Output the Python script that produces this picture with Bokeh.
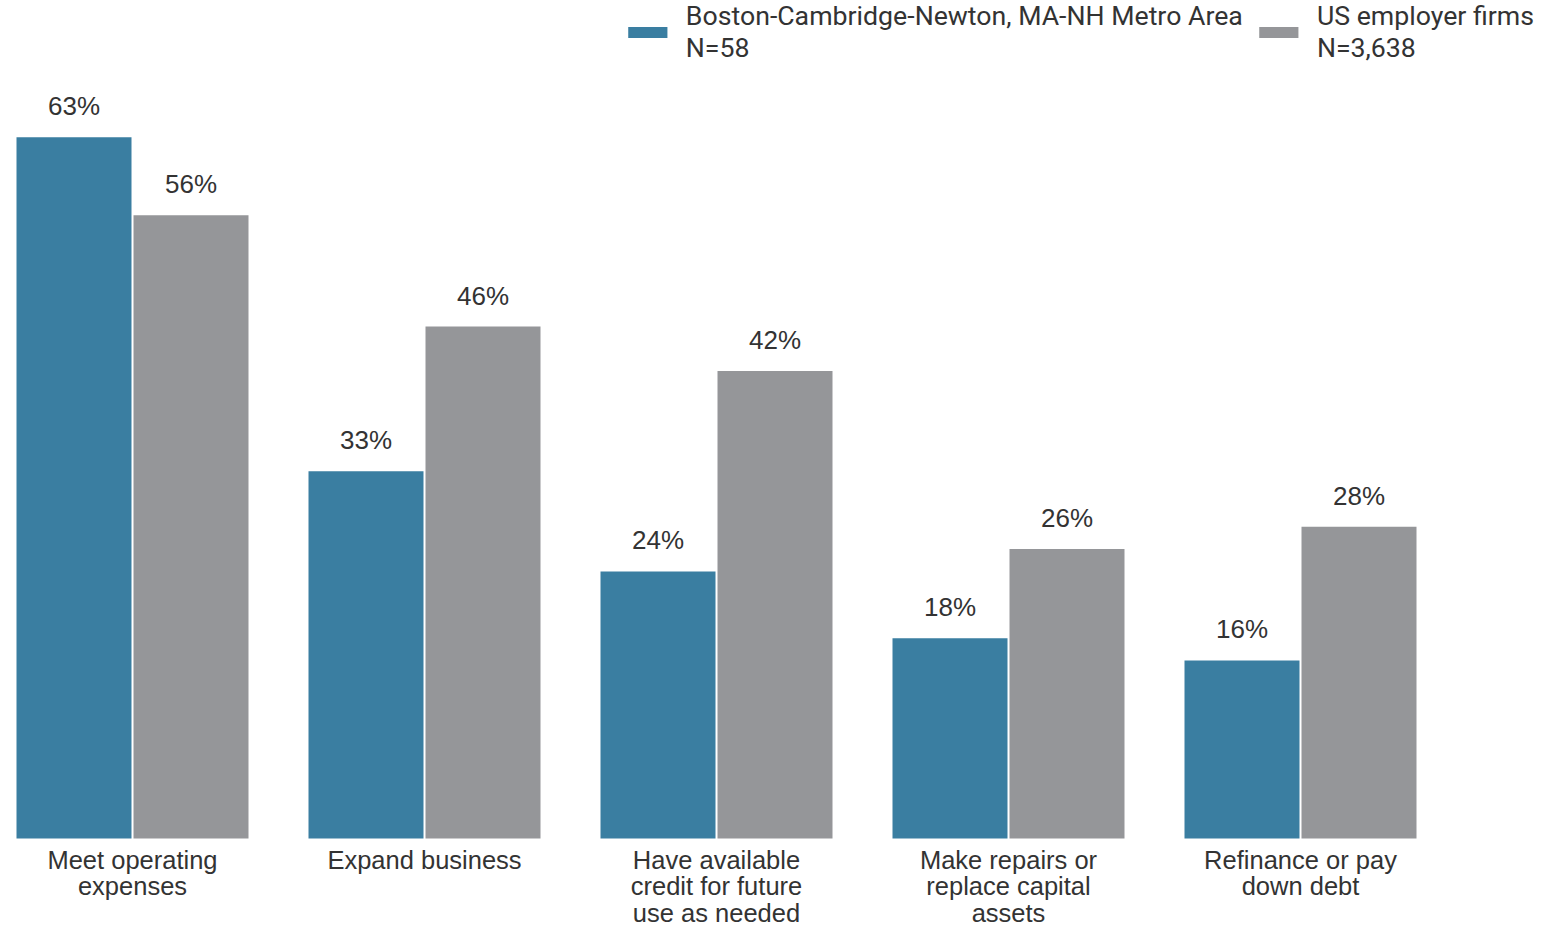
from bokeh.plotting import figure
from bokeh.models import ColumnDataSource, Legend, LegendItem, Range1d
from bokeh.core.properties import value
from bokeh.embed import file_html
from bokeh.resources import INLINE

categories = ["Meet operating\nexpenses", "Expand business",
              "Have available\ncredit for future\nuse as needed",
              "Make repairs or\nreplace capital\nassets", "Refinance or pay\ndown debt"]
boston = [63, 33, 24, 18, 16]
us = [56, 46, 42, 26, 28]
series_names = ["Boston-Cambridge-Newton, MA-NH Metro Area\nN=58", "US employer firms\nN=3,638"]
colors = ["#3a7ea1", "#959699"]

W, H = 1534, 931
BASE = 838
idx = list(range(len(categories)))
off = 58.5 / 292
bw = 115 / 292
scale_y = 11.13

src_b = ColumnDataSource(dict(x=[i - off for i in idx], top=boston,
                              lab=[f"{v}%" for v in boston]))
src_u = ColumnDataSource(dict(x=[i + off for i in idx], top=us,
                              lab=[f"{v}%" for v in us]))
src_c = ColumnDataSource(dict(x=idx, y=[0] * len(idx), lab=categories))

p = figure(width=W, height=H, output_backend="svg", toolbar_location=None,
           x_range=Range1d(-132 / 292, -132 / 292 + W / 292),
           y_range=Range1d(-(H - BASE) / scale_y, BASE / scale_y),
           x_axis_location=None, y_axis_location=None,
           min_border_left=0, min_border_right=0,
           min_border_top=0, min_border_bottom=0, outline_line_color=None)
p.grid.visible = False
p.background_fill_color = "white"
p.border_fill_color = "white"

rb = p.vbar(x="x", top="top", width=bw, source=src_b, fill_color=colors[0], line_color=None)
ru = p.vbar(x="x", top="top", width=bw, source=src_u, fill_color=colors[1], line_color=None)

for s in (src_b, src_u):
    p.text(x="x", y="top", text="lab", source=s, y_offset=-31,
           text_align="center", text_baseline="alphabetic",
           text_font=value("Liberation Sans"), text_font_size="26px", text_color="#333333")

p.text(x="x", y="y", text="lab", source=src_c, y_offset=7,
       text_align="center", text_baseline="top", text_line_height=0.95,
       text_font=value("Liberation Sans"), text_font_size="25.5px", text_color="#333333")

legend = Legend(items=[LegendItem(label=series_names[0], renderers=[rb]),
                       LegendItem(label=series_names[1], renderers=[ru])],
                orientation="horizontal", location="top_right",
                glyph_width=49, glyph_height=14, label_standoff=14, spacing=11,
                padding=0, margin=0, border_line_color=None,
                background_fill_alpha=0,
                label_text_font="Roboto", label_text_font_size="26.7px",
                label_text_color="#333333", label_text_line_height=0.95)
p.add_layout(legend)

open("out.html", "w").write(file_html(p, INLINE))
